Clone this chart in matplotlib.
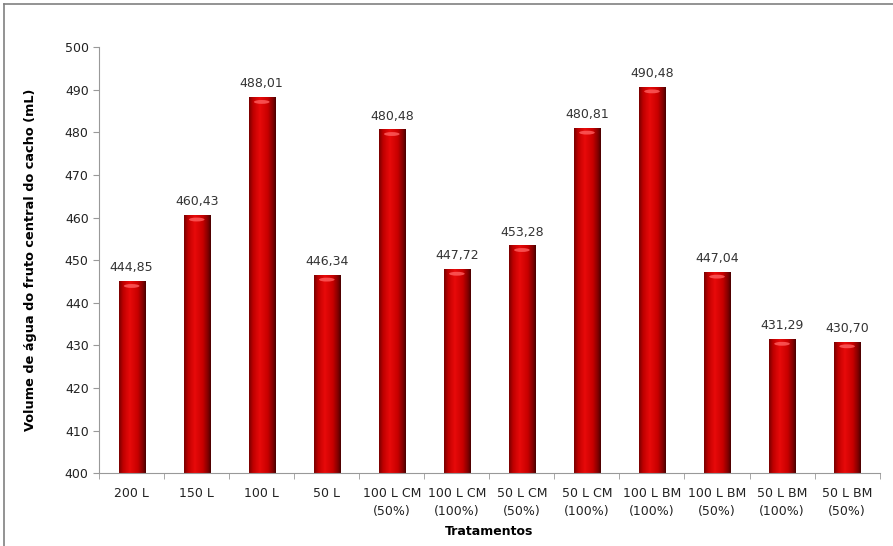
import numpy as np
import matplotlib.pyplot as plt
from matplotlib.colors import LinearSegmentedColormap
from matplotlib.patches import Ellipse
from matplotlib.lines import Line2D

# Tratamentos e volumes medidos
tratamentos = ['200 L', '150 L', '100 L', '50 L', '100 L CM\n(50%)', '100 L CM\n(100%)',
               '50 L CM\n(50%)', '50 L CM\n(100%)', '100 L BM\n(100%)', '100 L BM\n(50%)',
               '50 L BM\n(100%)', '50 L BM\n(50%)']
volumes = [444.85, 460.43, 488.01, 446.34, 480.48, 447.72,
           453.28, 480.81, 490.48, 447.04, 431.29, 430.70]

base = 400
largura = 0.4

# Gradiente horizontal para dar aspecto cilindrico as barras
cmap = LinearSegmentedColormap.from_list(
    'cilindro', [(0.0, '#7a0000'), (0.15, '#c00000'), (0.4, '#e80a0a'),
                 (0.7, '#c80000'), (0.9, '#800000'), (1.0, '#4a0000')])
grad = np.linspace(0, 1, 64).reshape(1, -1)

fig = plt.figure(figsize=(8.93, 5.46), dpi=100)
ax = fig.add_axes([0.111, 0.133, 0.874, 0.781])

x = np.arange(len(volumes))
for xi, v in zip(x, volumes):
    ax.imshow(grad, cmap=cmap, aspect='auto', extent=(xi - largura / 2, xi + largura / 2, base, v),
              zorder=2, interpolation='bilinear')
    # brilho no topo
    ax.add_patch(Ellipse((xi, v - 0.9), largura * 0.6, 0.9, color='#ff6060', alpha=0.8,
                         lw=0, zorder=3))
    ax.text(xi, v + 1.8, f'{v:.2f}'.replace('.', ','), ha='center', va='bottom',
            fontsize=9, color='#333333', zorder=4)

ax.set_xlim(-0.5, len(volumes) - 0.5)
ax.set_ylim(400, 500)
ax.set_yticks(np.arange(400, 501, 10))
ax.set_xticks(x)
ax.set_xticklabels(tratamentos, fontsize=9, color='#222222', linespacing=1.45)
ax.set_xticks(np.arange(-0.5, len(volumes), 1), minor=True)
ax.tick_params(axis='x', which='major', length=0, pad=10)
ax.tick_params(axis='x', which='minor', length=4, color='#999999')
ax.tick_params(axis='y', length=4, color='#999999', labelsize=9, labelcolor='#222222')

for s in ['top', 'right']:
    ax.spines[s].set_visible(False)
for s in ['left', 'bottom']:
    ax.spines[s].set_color('#999999')

ax.set_xlabel('Tratamentos', fontsize=9, fontweight='bold', labelpad=5)
ax.set_ylabel('Volume de água do fruto central do cacho (mL)', fontsize=9.3, fontweight='bold',
              labelpad=20)

# moldura cinza (apenas topo e esquerda visiveis)
fig.add_artist(Line2D([0.005, 1.0], [0.993, 0.993], transform=fig.transFigure, color='#808080', lw=1.2))
fig.add_artist(Line2D([0.005, 0.005], [0.0, 0.993], transform=fig.transFigure, color='#808080', lw=1.2))

fig.savefig('out.png', dpi=100)
